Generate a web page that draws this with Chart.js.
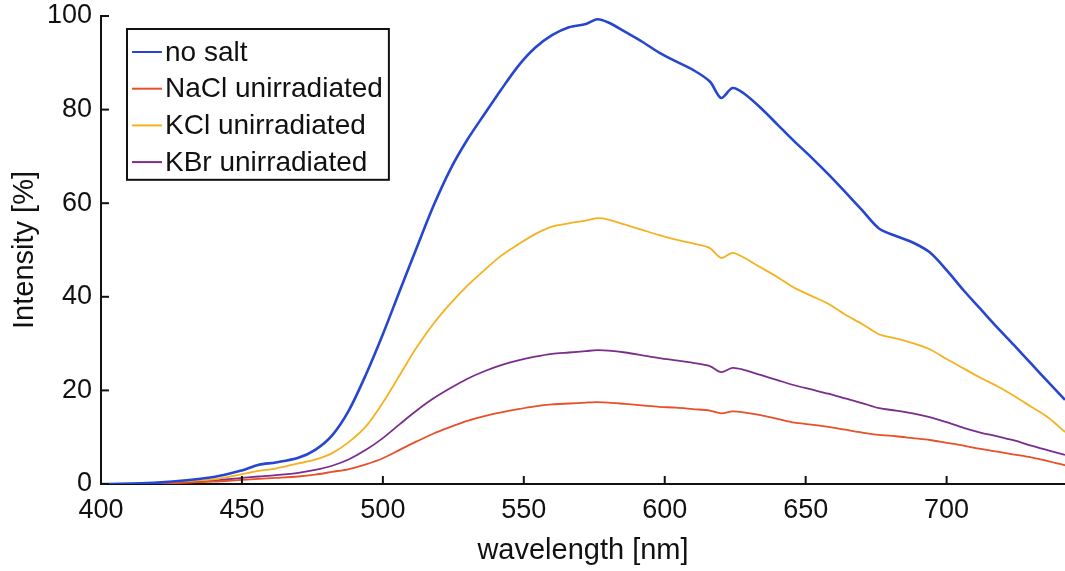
<!DOCTYPE html>
<html>
<head>
<meta charset="utf-8">
<script src="https://cdn.jsdelivr.net/npm/chart.js@4"></script>
<style>
  body { margin: 0; background: #fff; }
</style>
</head>
<body>
<canvas id="myChart" width="1065" height="571"></canvas>
<script>
  const wavelengths = [
    400, 420, 440, 450, 456, 462, 470, 476, 482, 488, 494,
    500, 506, 512, 518, 524, 530, 536, 542, 548, 554, 560,
    566, 572, 576, 580, 586, 592, 598, 604, 610, 616,
    620, 624, 628, 634, 640, 646, 652, 658, 664, 670, 676,
    682, 688, 694, 700, 706, 712, 718, 724, 730, 736, 742
  ];

  const noSalt = [
    0, 0.3, 1.5, 2.9, 4.1, 4.6, 5.6, 7.3, 10.4, 15.8, 23.4,
    32, 41.3, 50.5, 59.5, 67.3, 73.6, 79, 84.3, 89.3, 93.2, 95.9,
    97.6, 98.3, 99.3, 98.6, 96.6, 94.5, 92.2, 90.3, 88.5, 86,
    82.5, 84.6, 83.5, 80.4, 76.8, 73.2, 69.8, 66.2, 62.4, 58.5, 54.6,
    53, 51.6, 49.5, 45.7, 41.4, 37.4, 33.4, 29.6, 25.7, 21.8, 18
  ];
  const naclUnirr = [
    0, 0.1, 0.5, 0.9, 1.1, 1.3, 1.6, 2, 2.6, 3.2, 4.2,
    5.5, 7.3, 9.1, 10.8, 12.2, 13.5, 14.5, 15.3, 16, 16.6, 17,
    17.2, 17.4, 17.5, 17.4, 17.1, 16.8, 16.5, 16.3, 16, 15.7,
    15.1, 15.5, 15.3, 14.7, 13.9, 13.1, 12.7, 12.2, 11.6, 11, 10.5,
    10.2, 9.8, 9.4, 8.8, 8.2, 7.5, 6.9, 6.3, 5.7, 4.9, 4
  ];
  const kclUnirr = [
    0, 0.2, 1, 2.1, 2.8, 3.3, 4.4, 5.2, 6.6, 9, 12.3,
    17.4, 23.3, 29.2, 34.3, 38.6, 42.4, 45.7, 48.8, 51.2, 53.4, 55,
    55.7, 56.3, 56.8, 56.5, 55.4, 54.3, 53.2, 52.2, 51.4, 50.4,
    48.3, 49.4, 48.4, 46.3, 44.2, 41.9, 40.2, 38.5, 36.2, 34.2, 32,
    31.1, 30.1, 28.8, 26.7, 24.7, 22.7, 20.9, 18.8, 16.5, 14.2, 11.1
  ];
  const kbrUnirr = [
    0, 0.1, 0.7, 1.3, 1.6, 1.9, 2.4, 3, 3.9, 5.3, 7.3,
    9.8, 12.8, 15.7, 18.3, 20.5, 22.5, 24.1, 25.4, 26.4, 27.2, 27.8,
    28.1, 28.4, 28.6, 28.5, 28.1, 27.5, 26.9, 26.4, 25.9, 25.2,
    23.9, 24.8, 24.4, 23.3, 22.2, 21.1, 20.2, 19.3, 18.3, 17.3, 16.2,
    15.7, 15.1, 14.3, 13.2, 12, 11, 10.2, 9.3, 8.2, 7.2, 6.2
  ];

  const seriesLabels = ['no salt', 'NaCl unirradiated', 'KCl unirradiated', 'KBr unirradiated'];
  const seriesColors = ['#2746cf', '#e8502a', '#f4b21f', '#7b2d8c'];

  const FONT = '"Liberation Sans", Arial, sans-serif';

  function toPoints(values) {
    return values.map((v, i) => ({ x: wavelengths[i], y: v }));
  }

  // inward tick marks like matlab
  const innerTicks = {
    id: 'innerTicks',
    afterDatasetsDraw(chart) {
      const { ctx, chartArea, scales } = chart;
      ctx.save();
      ctx.strokeStyle = '#111';
      ctx.lineWidth = 2;
      scales.x.ticks.forEach(t => {
        const px = scales.x.getPixelForValue(t.value);
        ctx.beginPath();
        ctx.moveTo(px, chartArea.bottom);
        ctx.lineTo(px, chartArea.bottom - 8);
        ctx.stroke();
      });
      scales.y.ticks.forEach(t => {
        const py = scales.y.getPixelForValue(t.value);
        ctx.beginPath();
        ctx.moveTo(chartArea.left, py);
        ctx.lineTo(chartArea.left + 8, py);
        ctx.stroke();
      });
      ctx.restore();
    }
  };

  // boxed legend inside the plot, top left
  const boxLegend = {
    id: 'boxLegend',
    afterDraw(chart) {
      const { ctx, chartArea } = chart;
      const sets = chart.data.datasets;
      const left = chartArea.left + 26;
      const top = chartArea.top + 13;
      const rowH = 36.7;
      ctx.save();
      ctx.font = '28px ' + FONT;
      let maxW = 0;
      sets.forEach(ds => { maxW = Math.max(maxW, ctx.measureText(ds.label).width); });
      const w = 38 + maxW + 6;
      const h = rowH * sets.length + 4;
      ctx.fillStyle = '#fff';
      ctx.fillRect(left, top, w, h);
      ctx.strokeStyle = '#111';
      ctx.lineWidth = 2;
      ctx.strokeRect(left, top, w, h);
      ctx.textBaseline = 'middle';
      sets.forEach((ds, i) => {
        const cy = top + 23 + i * rowH;
        ctx.strokeStyle = ds.borderColor;
        ctx.lineWidth = 2;
        ctx.beginPath();
        ctx.moveTo(left + 5, cy);
        ctx.lineTo(left + 35, cy);
        ctx.stroke();
        ctx.fillStyle = '#111';
        ctx.fillText(ds.label, left + 38, cy + 1);
      });
      ctx.restore();
    }
  };

  const data = {
    datasets: [
      { label: seriesLabels[0], data: toPoints(noSalt), borderColor: seriesColors[0], borderWidth: 2.6 },
      { label: seriesLabels[1], data: toPoints(naclUnirr), borderColor: seriesColors[1], borderWidth: 1.8 },
      { label: seriesLabels[2], data: toPoints(kclUnirr), borderColor: seriesColors[2], borderWidth: 1.8 },
      { label: seriesLabels[3], data: toPoints(kbrUnirr), borderColor: seriesColors[3], borderWidth: 1.8 }
    ]
  };

  const config = {
    type: 'line',
    data: data,
    options: {
      responsive: false,
      animation: false,
      elements: {
        point: { radius: 0 },
        line: { tension: 0.3 }
      },
      layout: { padding: { top: 16, right: 0, left: 0, bottom: 0 } },
      plugins: {
        legend: { display: false },
        tooltip: { enabled: false }
      },
      scales: {
        x: {
          type: 'linear',
          min: 400,
          max: 742,
          afterBuildTicks(scale) {
            scale.ticks = scale.ticks.filter(t => t.value % 50 === 0);
          },
          afterFit(scale) { scale.height = 87; },
          grid: { drawOnChartArea: false, drawTicks: false },
          border: { display: true, color: '#111', width: 2 },
          ticks: {
            stepSize: 50,
            padding: 10,
            color: '#111',
            maxRotation: 0,
            font: { family: FONT, size: 27 }
          },
          title: {
            display: true,
            text: 'wavelength [nm]',
            color: '#111',
            padding: { top: 0, bottom: 3 },
            font: { family: FONT, size: 29 }
          }
        },
        y: {
          min: 0,
          max: 100,
          afterFit(scale) {
            scale.width = 101;
            scale.paddingTop = 0;
            scale.paddingBottom = 0;
          },
          grid: { drawOnChartArea: false, drawTicks: false },
          border: { display: true, color: '#111', width: 2 },
          ticks: {
            stepSize: 20,
            padding: 9,
            color: '#111',
            font: { family: FONT, size: 27, lineHeight: 0.8 }
          },
          title: {
            display: true,
            text: 'Intensity [%]',
            color: '#111',
            padding: { top: 8, bottom: 0 },
            font: { family: FONT, size: 29 }
          }
        }
      }
    },
    plugins: [innerTicks, boxLegend]
  };

  const myChart = new Chart(
    document.getElementById('myChart'),
    config
  );
</script>
</body>
</html>
